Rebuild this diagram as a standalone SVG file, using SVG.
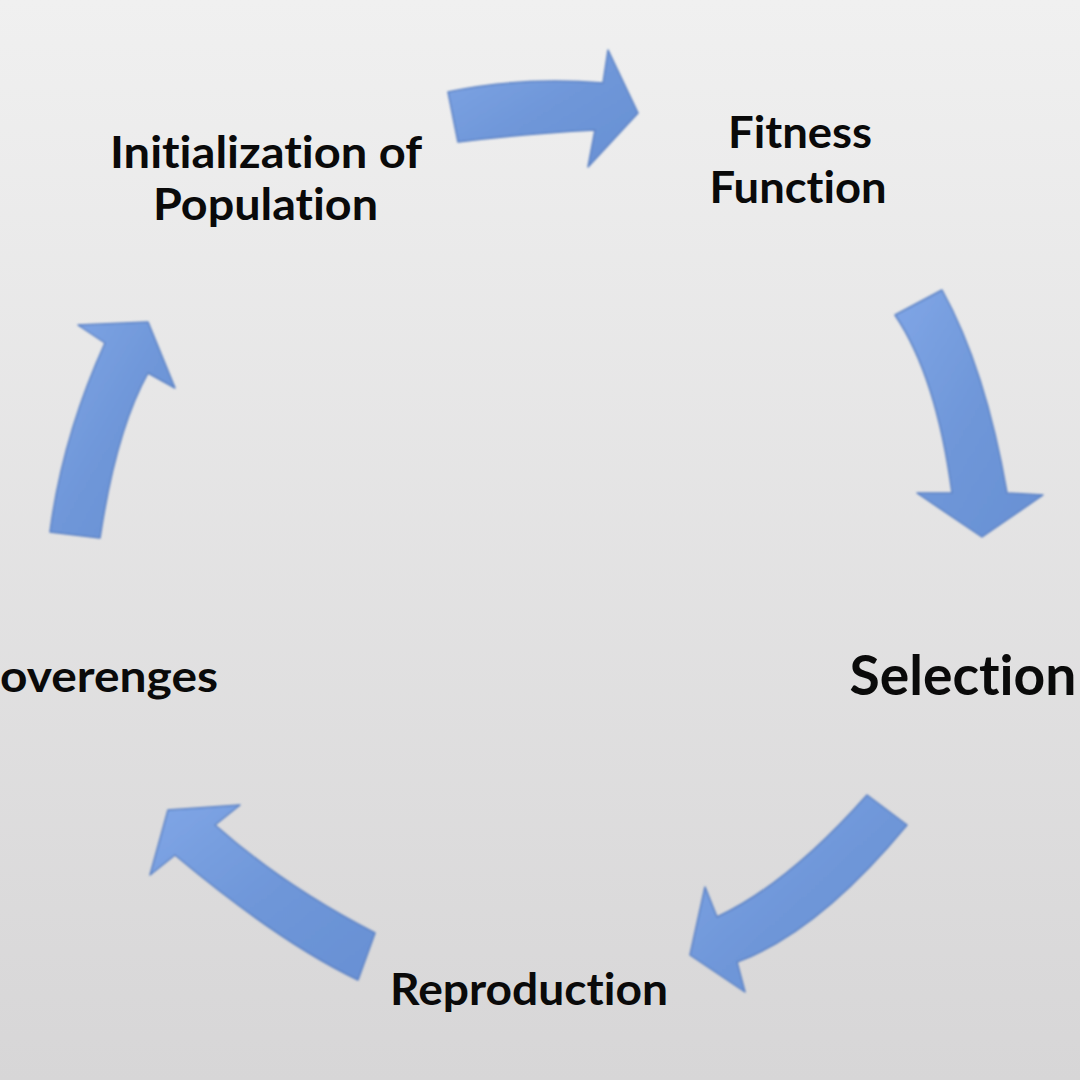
<svg xmlns="http://www.w3.org/2000/svg" width="1080" height="1080" viewBox="0 0 1080 1080">
  <defs>
    <linearGradient id="bg" x1="0" y1="0" x2="0" y2="1">
      <stop offset="0" stop-color="#f0f0f0"/>
      <stop offset="1" stop-color="#d7d6d7"/>
    </linearGradient>
    <linearGradient id="arrowFill" x1="0" y1="0" x2="1" y2="1">
      <stop offset="0" stop-color="#80a6e6"/>
      <stop offset="0.5" stop-color="#6f97d9"/>
      <stop offset="1" stop-color="#6890d4"/>
    </linearGradient>
    <filter id="soft" x="-10%" y="-10%" width="120%" height="120%">
      <feGaussianBlur stdDeviation="0.8"/>
    </filter>
  </defs>
  <style>
    .arrow { fill: url(#arrowFill); stroke: #5a80c4; stroke-width: 1.5; stroke-linejoin: round; filter: url(#soft); }
    .lbl { font-family: Lato, "Open Sans", "Liberation Sans", sans-serif; font-weight: bold; fill: #0a0a0a; text-anchor: middle; font-variant-ligatures: none; font-feature-settings: "liga" 0, "clig" 0; }
    .lbl44 { font-size: 44px; }
    .lbl55 { font-size: 55px; }
  </style>

  <rect x="0" y="0" width="1080" height="1080" fill="url(#bg)"/>

  <g id="connectors">
    <path id="arrow-init-fitness" class="arrow" d="M448,92 Q520.5,76.5 603,83 L608,50 L638,113 L588,167 L595,130 Q519.5,134 458,142 Z"/>
    <path id="arrow-fitness-selection" class="arrow" d="M942,290 Q985.5,368.5 1007,493 L1043,495 L982,537 L917,493 L952,493 Q936.5,376 895,315 Z"/>
    <path id="arrow-selection-reproduction" class="arrow" d="M907,825 Q818,932.5 737,962 L745,992 L690,955 L705,887 L717,917 Q788,884 867,795 Z"/>
    <path id="arrow-reproduction-coverenges" class="arrow" d="M375,933 Q285,887 215,825 L240,805 L168,810 L150,875 L175,855 Q279.5,942.5 358,980 Z"/>
    <path id="arrow-coverenges-init" class="arrow" d="M100,538 Q116,430.5 148,373 L175,388 L148,322 L78,325 L105,343 Q62.5,436.5 50,532 Z"/>
  </g>

  <g id="node-initialization">
    <text class="lbl lbl44" x="266" y="168" textLength="312" lengthAdjust="spacingAndGlyphs">Initialization of</text>
    <text class="lbl lbl44" x="265.5" y="220" textLength="225" lengthAdjust="spacingAndGlyphs">Population</text>
  </g>
  <g id="node-fitness">
    <text class="lbl lbl44" x="800" y="148" textLength="144" lengthAdjust="spacingAndGlyphs">Fitness</text>
    <text class="lbl lbl44" x="798" y="203" textLength="177" lengthAdjust="spacingAndGlyphs">Function</text>
  </g>
  <g id="node-selection">
    <text class="lbl lbl55" x="963" y="695" textLength="227" lengthAdjust="spacingAndGlyphs">Selection</text>
  </g>
  <g id="node-reproduction">
    <text class="lbl lbl44" x="529" y="1005" textLength="278" lengthAdjust="spacingAndGlyphs">Reproduction</text>
  </g>
  <g id="node-coverenges">
    <text class="lbl lbl44" x="109" y="692" textLength="218" lengthAdjust="spacingAndGlyphs">overenges</text>
  </g>
</svg>
